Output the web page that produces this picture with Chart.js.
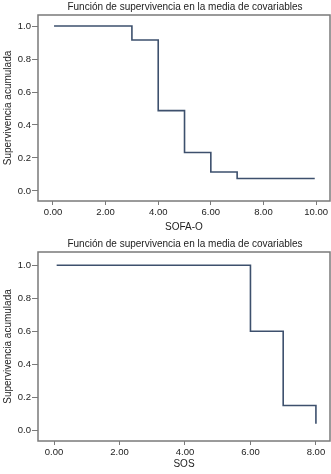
<!DOCTYPE html>
<html>
<head>
<meta charset="utf-8">
<script src="https://cdn.jsdelivr.net/npm/chart.js@4"></script>
<style>
  body { margin: 0; background: #fff; }
  .box { position: absolute; left: 0; width: 331px; height: 237px; }
</style>
</head>
<body>
<div class="box" style="top:0"><canvas id="c1" width="331" height="237"></canvas></div>
<div class="box" style="top:237px"><canvas id="c2" width="331" height="237"></canvas></div>
<script>
// survival step data
const sofaTimes = [0.04, 3, 4, 5, 6, 7, 9.95];
const sofaSurv = [1.0, 0.915, 0.487, 0.233, 0.115, 0.075, 0.075];
const sosTimes = [0.08, 6, 7, 8];
const sosSurv = [1.0, 0.6, 0.15, 0.04];

const yTicks = [0, 0.2, 0.4, 0.6, 0.8, 1.0];
const sofaTicks = [0, 2, 4, 6, 8, 10];
const sosTicks = [0, 2, 4, 6, 8];

const titleText = "Función de supervivencia en la media de covariables";
const yTitle = "Supervivencia acumulada";
const lineColor = "#3d506d";
const frameColor = "#7a7a7a";
const font = "Liberation Sans, Arial, sans-serif";

const framePlugin = {
  id: "frame",
  afterDraw(chart) {
    const a = chart.chartArea, ctx = chart.ctx;
    ctx.save();
    ctx.strokeStyle = frameColor;
    ctx.lineWidth = 1.5;
    ctx.strokeRect(a.left, a.top, a.right - a.left, a.bottom - a.top);
    ctx.fillStyle = "#222";
    ctx.font = "10px " + font;
    ctx.textAlign = "center";
    ctx.textBaseline = "middle";
    ctx.fillText(titleText, (a.left + a.right) / 2 + 1, 7);
    ctx.restore();
  }
};

function makeChart(id, times, surv, xTicks, xMin, xMax, yMin, yMax, xTitle, top, bottomH) {
  new Chart(document.getElementById(id), {
    type: "line",
    data: {
      datasets: [{
        data: times.map((t, i) => ({ x: t, y: surv[i] })),
        stepped: true,
        borderColor: lineColor,
        borderWidth: 1.6,
        pointRadius: 0,
        fill: false
      }]
    },
    options: {
      responsive: false,
      animation: false,
      layout: { padding: { top: top, right: 1, left: 0, bottom: 0 } },
      plugins: { legend: { display: false }, tooltip: { enabled: false } },
      scales: {
        x: {
          type: "linear", min: xMin, max: xMax,
          afterBuildTicks: s => { s.ticks = xTicks.map(v => ({ value: v })); },
          afterFit: s => { s.height = bottomH; },
          grid: { drawOnChartArea: false, tickLength: 4, color: frameColor, lineWidth: 1 },
          border: { display: false },
          ticks: { color: "#222", font: { size: 9.5, family: font }, padding: 2, maxRotation: 0,
                   callback: v => v.toFixed(2) },
          title: { display: true, text: xTitle, color: "#222", font: { size: 10, family: font }, padding: { top: 0, bottom: 4 } }
        },
        y: {
          type: "linear", min: yMin, max: yMax,
          afterBuildTicks: s => { s.ticks = yTicks.map(v => ({ value: v })); },
          afterFit: s => { s.width = 38; },
          grid: { drawOnChartArea: false, tickLength: 6, color: frameColor, lineWidth: 1 },
          border: { display: false },
          ticks: { color: "#222", font: { size: 9.5, family: font }, padding: 1,
                   callback: v => v.toFixed(1) },
          title: { display: true, text: yTitle, color: "#222", font: { size: 10, family: font }, padding: { top: 2, bottom: 0 } }
        }
      }
    },
    plugins: [framePlugin]
  });
}

makeChart("c1", sofaTimes, sofaSurv, sofaTicks, -0.57, 10.53, -0.061, 1.067, "SOFA-O", 15, 36);
makeChart("c2", sosTimes, sosSurv, sosTicks, -0.49, 8.43, -0.065, 1.08, "SOS", 15, 33);
</script>
</body>
</html>
